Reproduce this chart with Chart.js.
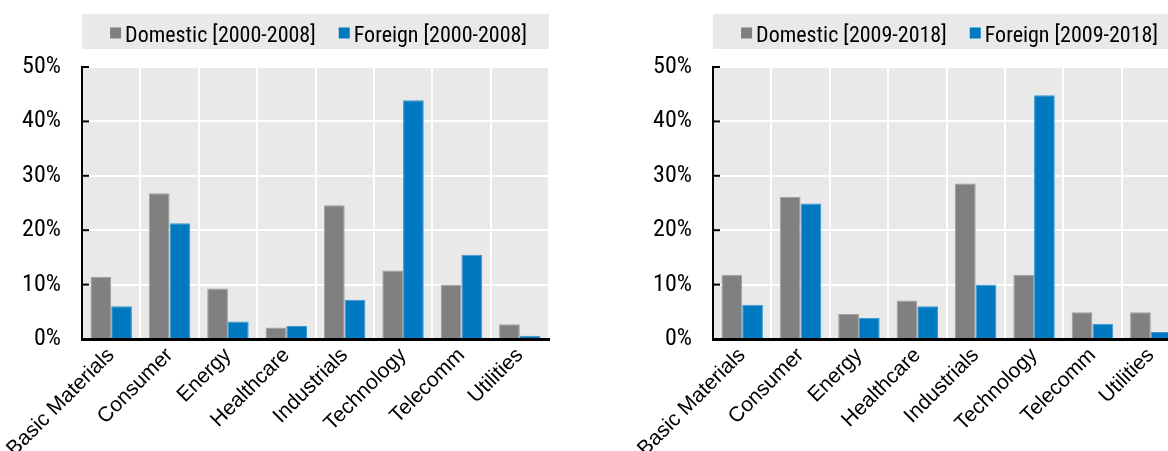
<!DOCTYPE html>
<html>
<head>
<meta charset="utf-8">
<script src="https://cdn.jsdelivr.net/npm/chart.js@4.4.0/dist/chart.umd.min.js"></script>
<style>
  html, body { margin: 0; padding: 0; background: #fff; overflow: hidden; }
  body { width: 1168px; height: 451px; position: relative; }
  .panel { position: absolute; top: 0; width: 584px; height: 451px; }
  #left { left: 0; }
  #right { left: 631px; }
</style>
</head>
<body>
<div class="panel" id="left"><canvas id="chart-early"></canvas></div>
<div class="panel" id="right"><canvas id="chart-late"></canvas></div>
<script>
var sectors = ['Basic Materials', 'Consumer', 'Energy', 'Healthcare', 'Industrials', 'Technology', 'Telecomm', 'Utilities'];
var domestic2000 = [11.4, 26.8, 9.3, 2.1, 24.6, 12.6, 10.0, 2.7];
var foreign2000 = [6.0, 21.3, 3.2, 2.4, 7.2, 43.9, 15.5, 0.6];
var domestic2009 = [11.8, 26.1, 4.6, 7.1, 28.6, 11.8, 4.9, 4.9];
var foreign2009 = [6.3, 24.9, 3.9, 6.0, 10.0, 44.8, 2.8, 1.3];
var yTicks = [0, 10, 20, 30, 40, 50];

var GREY = '#808080';
var BLUE = '#0079c1';
var PANEL = '#e9e9e9';
var NARROW = "'Roboto Condensed', 'Liberation Sans Narrow', sans-serif";

// grey boxes behind legend and plot, hand drawn legend, inward y ticks
var panelDecor = {
  id: 'panelDecor',
  beforeDraw: function (chart) {
    var ctx = chart.ctx, area = chart.chartArea;
    ctx.save();
    ctx.fillStyle = PANEL;
    ctx.fillRect(area.left, area.top, area.right - area.left, area.bottom - area.top);
    ctx.fillRect(area.left, 14, area.right - area.left, 35);
    ctx.restore();
  },
  afterDraw: function (chart) {
    var ctx = chart.ctx, area = chart.chartArea, y = chart.scales.y;
    ctx.save();
    ctx.strokeStyle = '#000';
    ctx.lineWidth = 2;
    yTicks.forEach(function (v) {
      var py = y.getPixelForValue(v);
      ctx.beginPath();
      ctx.moveTo(area.left, py);
      ctx.lineTo(area.left + 7, py);
      ctx.stroke();
    });

    ctx.font = '22px ' + NARROW;
    ctx.textBaseline = 'alphabetic';
    var items = chart.data.datasets.map(function (ds) {
      return { text: ds.label, color: ds.backgroundColor, w: ctx.measureText(ds.label).width };
    });
    var total = 23 * (items.length - 1);
    items.forEach(function (it) { total += 15 + it.w; });
    var x = (area.left + area.right - total) / 2 + 3;
    items.forEach(function (it) {
      ctx.fillStyle = it.color;
      ctx.fillRect(x, 27.5, 11, 11);
      x += 15;
      ctx.fillStyle = '#000';
      ctx.fillText(it.text, x, 42);
      x += it.w + 23;
    });
    ctx.restore();
  }
};

function makeChart(id, domestic, foreign, period) {
  var canvas = document.getElementById(id).getContext('2d');
  return new Chart(canvas, {
    type: 'bar',
    data: {
      labels: sectors,
      datasets: [{
        label: 'Domestic [' + period + ']',
        data: domestic,
        backgroundColor: GREY,
        borderColor: '#a0a0a0',
        borderWidth: 1
      }, {
        label: 'Foreign [' + period + ']',
        data: foreign,
        backgroundColor: BLUE,
        borderColor: '#3d96d0',
        borderWidth: 1
      }]
    },
    options: {
      responsive: true,
      maintainAspectRatio: false,
      animation: false,
      datasets: {
        bar: { categoryPercentage: 0.71, barPercentage: 1.0 }
      },
      layout: { padding: { top: 67, right: 35, left: 0, bottom: 0 } },
      plugins: {
        tooltip: { enabled: false },
        legend: { display: false }
      },
      scales: {
        x: {
          grid: { color: '#ffffff', lineWidth: 2, drawTicks: false, offset: true },
          border: { color: '#000', width: 3 },
          ticks: {
            color: '#000',
            padding: 4,
            minRotation: 45,
            maxRotation: 45,
            autoSkip: false,
            font: { family: "'Liberation Sans', Arial, sans-serif", size: 21 }
          },
          afterFit: function (scale) {
            scale.height = 112;
            scale.paddingLeft = 0;
            scale.paddingRight = 0;
          }
        },
        y: {
          min: 0,
          max: 50,
          grid: { color: '#ffffff', lineWidth: 2, drawTicks: false },
          border: { color: '#000', width: 2 },
          ticks: {
            stepSize: 10,
            padding: 21,
            color: '#000',
            font: { family: NARROW, size: 24 },
            callback: function (v) { return v + '%'; }
          },
          afterFit: function (scale) {
            scale.width = 82;
          }
        }
      }
    },
    plugins: [panelDecor]
  });
}

makeChart('chart-early', domestic2000, foreign2000, '2000-2008');
makeChart('chart-late', domestic2009, foreign2009, '2009-2018');
</script>
</body>
</html>
